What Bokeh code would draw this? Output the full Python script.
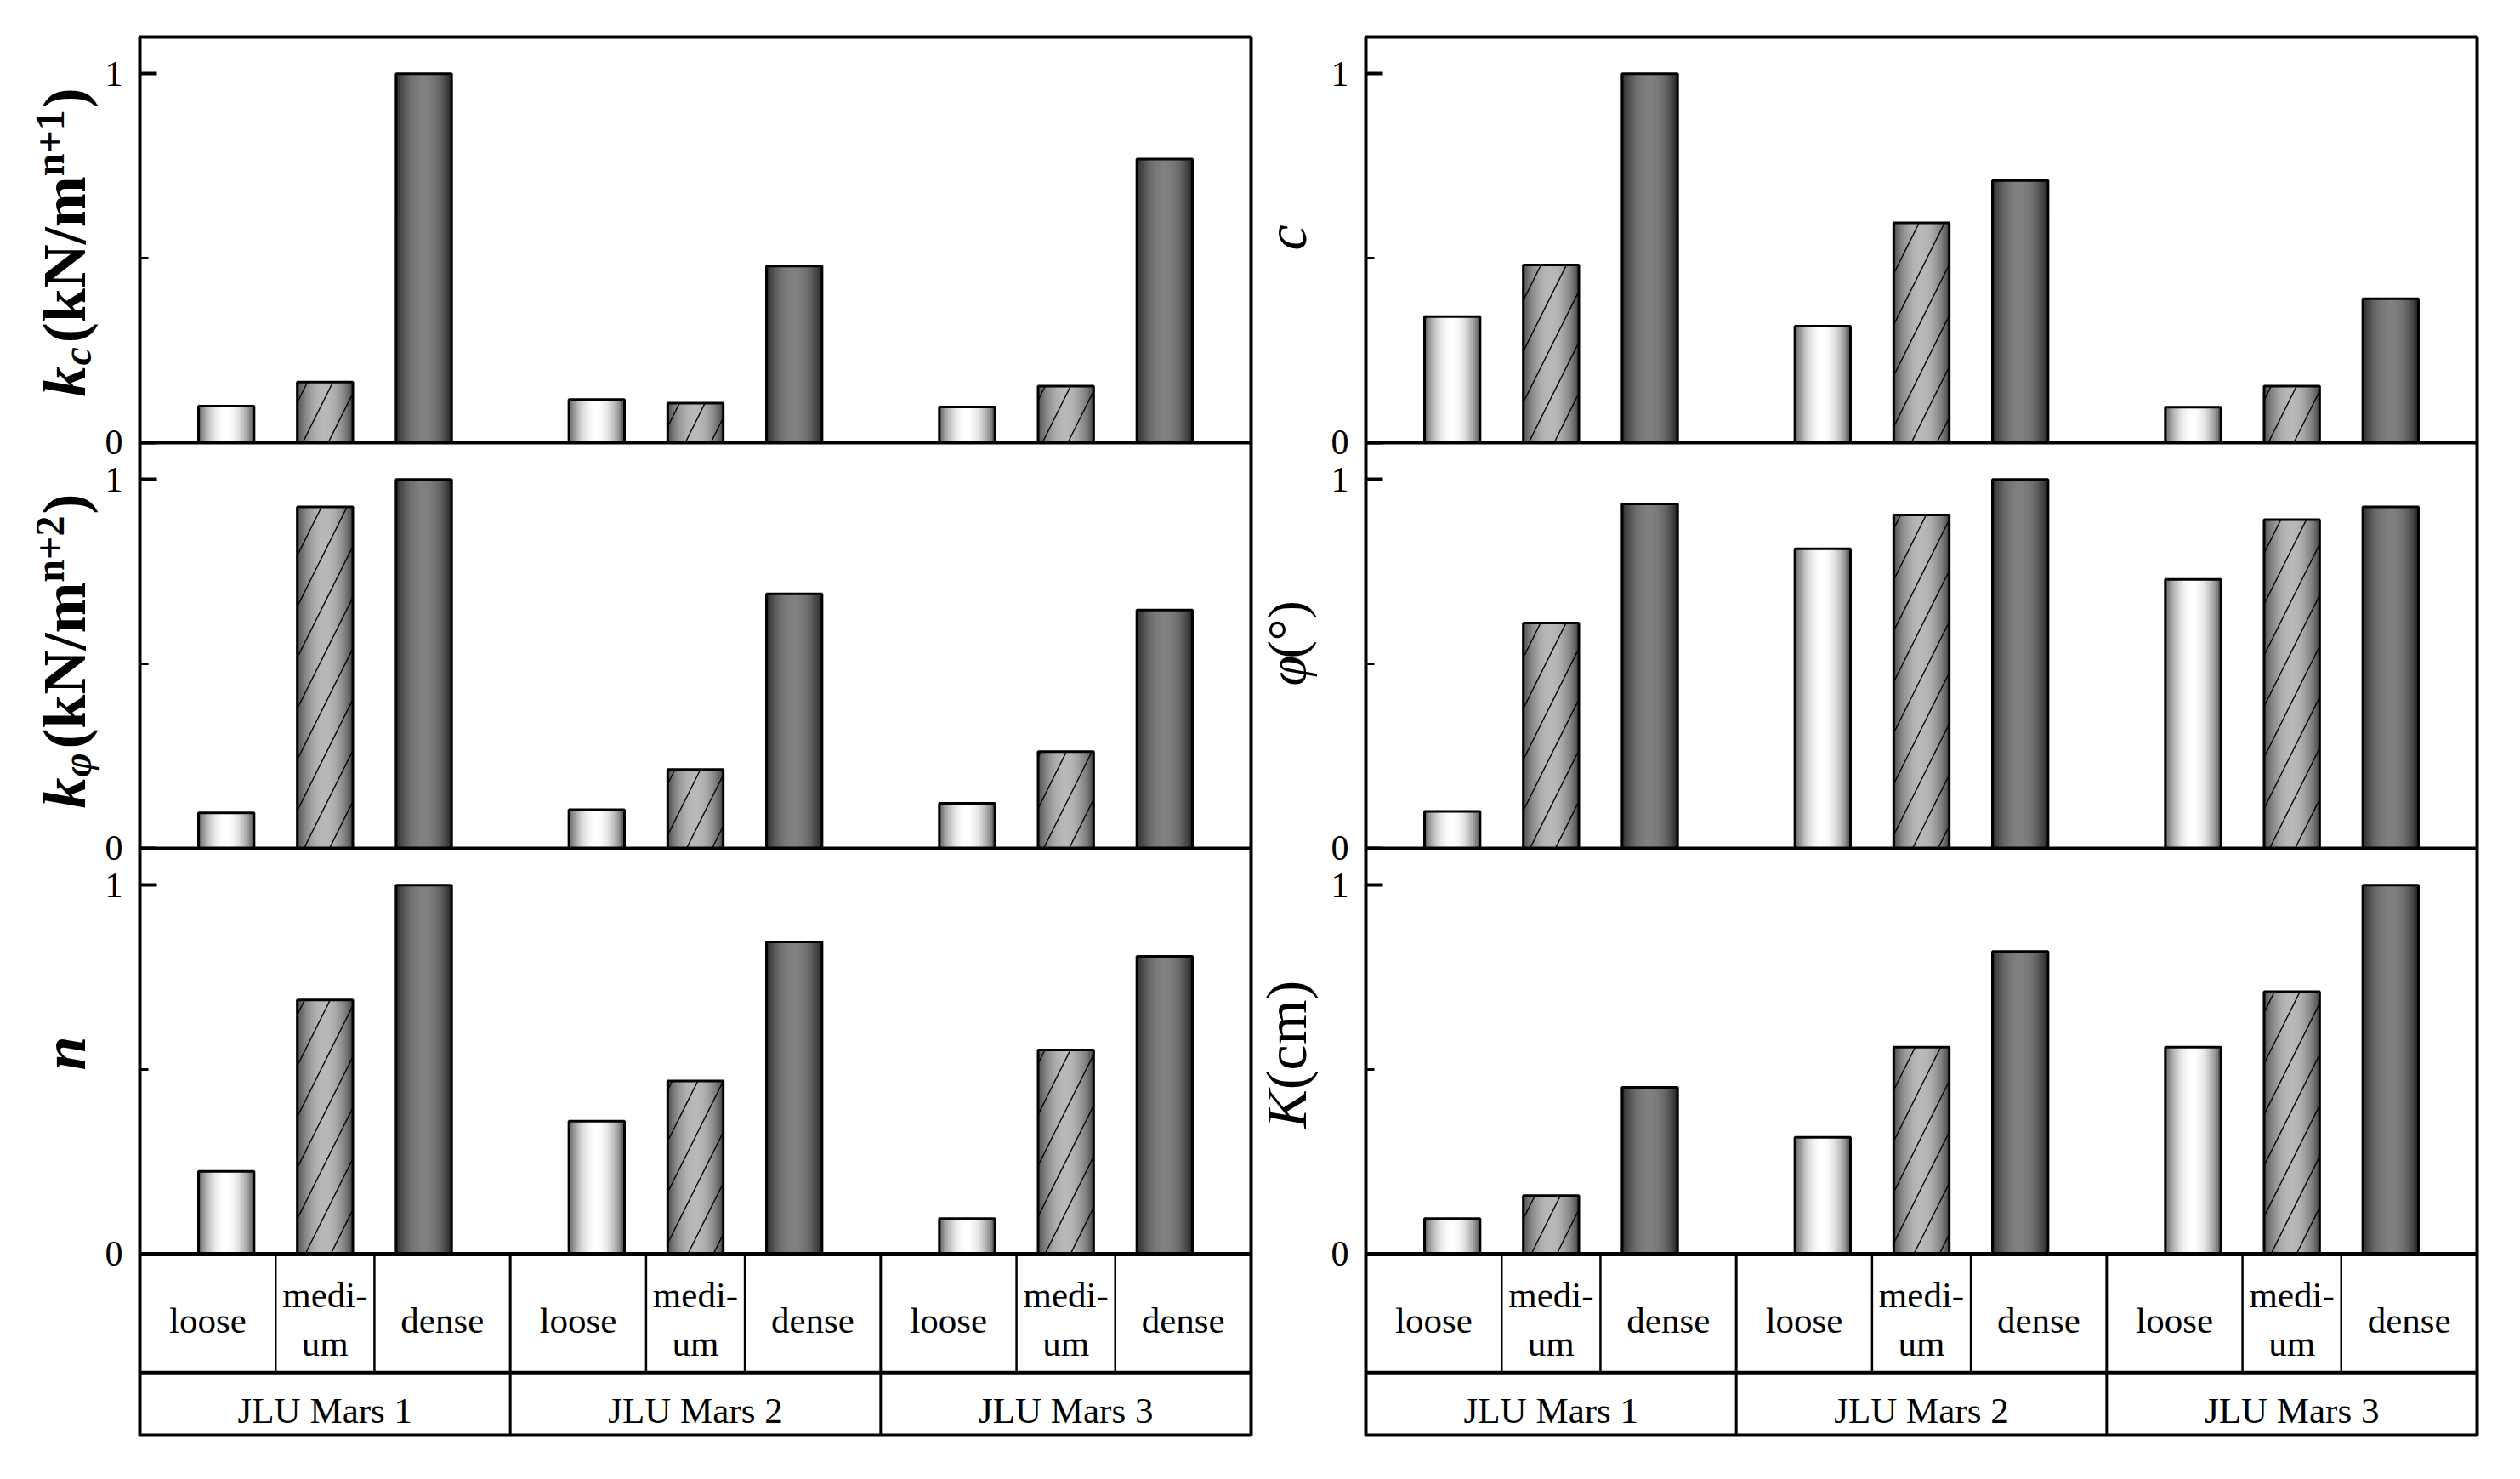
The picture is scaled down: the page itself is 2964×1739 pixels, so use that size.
import math
from bokeh.plotting import figure
from bokeh.models import FixedTicker, Span, ColumnDataSource, Range1d, Label
from bokeh.layouts import row
from bokeh.embed import file_html
from bokeh.resources import INLINE
from bokeh.core.properties import value

# ---------------- data ----------------
densities = ["loose", "medium", "dense"]
soils = ["JLU Mars 1", "JLU Mars 2", "JLU Mars 3"]
# values ordered: Mars1 (loose, medium, dense), Mars2 (...), Mars3 (...)
kc_vals = [0.099, 0.164, 1.000, 0.117, 0.107, 0.479, 0.097, 0.153, 0.769]
kphi_vals = [0.096, 0.926, 1.000, 0.105, 0.214, 0.690, 0.122, 0.262, 0.646]
n_vals = [0.224, 0.689, 1.000, 0.360, 0.469, 0.846, 0.096, 0.553, 0.807]
c_vals = [0.342, 0.482, 1.000, 0.316, 0.596, 0.711, 0.096, 0.153, 0.390]
phi_vals = [0.100, 0.611, 0.934, 0.812, 0.904, 1.000, 0.729, 0.891, 0.926]
K_vals = [0.096, 0.158, 0.452, 0.316, 0.561, 0.820, 0.561, 0.711, 1.000]
tick_values = [0, 1]
minor_tick_values = [0.5]

# ---------------- layout constants ----------------
FONT = "Liberation Serif"
FRAME_W = 1307
FRAME_H = 1644
BT, BB = 43, 6
FIG_H = BT + FRAME_H + BB
FRAME_TOP_PX = 8 + BT
SUB_H = 1.1
Y1 = 3 * SUB_H
PX_PER_Y = 433.6
Y0 = Y1 - FRAME_H / PX_PER_Y
PX_PER_X = FRAME_W / 9.0
BAR_W = 0.45
BAR_STEP = 0.8
NS = 24
edge_grey = [70, 60, 28]
center_grey = [255, 185, 128]
MID = 0.3375  # distance (em) from baseline to middle of the font box

# approximate advance widths (em) of Liberation Serif glyphs, for label layout
W_BOLD = {"(": 0.333, ")": 0.333, "k": 0.556, "N": 0.722, "/": 0.278, "m": 0.833,
          "n": 0.556, "+": 0.570, "1": 0.5, "2": 0.5}
W_BI = {"k": 0.5, "c": 0.444, "n": 0.556, "φ": 0.56}
W_I = {"K": 0.667, "c": 0.444, "φ": 0.5}
W_R = {"(": 0.333, ")": 0.333, "c": 0.444, "m": 0.778, "°": 0.4}
WIDTHS = {"bold": W_BOLD, "bold italic": W_BI, "italic": W_I, "normal": W_R}


def yd(py):
    return Y1 - (py - FRAME_TOP_PX) / PX_PER_Y


def bar_centers():
    return [3 * (j // 3) + 1.5 + (j % 3 - 1) * BAR_STEP for j in range(9)]


def make_label_fig(x0, x1, labels, base_px):
    """Narrow figure holding the rotated axis titles; data coords = page px.
    Its frame has the same vertical extent as the chart frames."""
    p = figure(width=x1 - x0, height=FIG_H, x_range=Range1d(x0, x1),
               y_range=Range1d(-(FRAME_TOP_PX + FRAME_H), -FRAME_TOP_PX),
               output_backend="svg", toolbar_location=None,
               x_axis_location=None, y_axis_location=None, title=None,
               min_border_left=0, min_border_right=0, min_border_top=BT,
               min_border_bottom=BB)
    p.grid.visible = False
    p.outline_line_color = None
    for start_py, pieces in labels:
        pos = start_py
        for text, style, sz, shift, gap in pieces:
            w = sum(WIDTHS[style][ch] for ch in text) * sz
            # baseline at base_px + shift; anchor at the middle of the font box
            p.add_layout(Label(x=base_px + shift - MID * sz, y=-pos, text=text,
                               angle=math.pi / 2, text_align="left",
                               text_baseline="middle", text_font=FONT,
                               text_font_style=style, text_font_size=f"{sz}px",
                               text_color="black"))
            pos -= w + gap
    return p


def make_column(params, border_left):
    p = figure(width=border_left + FRAME_W + 4, height=FIG_H,
               x_range=Range1d(0, 9), y_range=Range1d(Y0, Y1),
               output_backend="svg", toolbar_location=None,
               x_axis_location=None, title=None,
               min_border_left=border_left, min_border_right=4,
               min_border_top=BT, min_border_bottom=BB)
    p.grid.visible = False
    p.outline_line_color = "black"
    p.outline_line_width = 4
    p.background_fill_color = "white"
    p.border_fill_color = "white"

    centers = bar_centers()
    ticks, minors, overrides = [], [], {}
    for i, vals in enumerate(params):
        base = (2 - i) * SUB_H
        for t in tick_values:
            tv = round(base + t, 6)
            ticks.append(tv)
            overrides[tv] = str(t)
        for m in minor_tick_values:
            minors.append(round(base + m, 6))
        # gradient strips
        L, R, T, B, C = [], [], [], [], []
        for j, v in enumerate(vals):
            d = j % 3
            left = centers[j] - BAR_W / 2
            for s in range(NS):
                tmid = (s + 0.5) / NS
                f = math.sin(math.pi * tmid) ** 0.7
                g = int(round(edge_grey[d] + (center_grey[d] - edge_grey[d]) * f))
                L.append(left + s * BAR_W / NS)
                R.append(left + (s + 1) * BAR_W / NS)
                T.append(base + v)
                B.append(base)
                C.append("#%02x%02x%02x" % (g, g, g))
        src = ColumnDataSource(dict(left=L, right=R, top=T, bottom=B, color=C))
        p.quad(left="left", right="right", top="top", bottom="bottom",
               fill_color="color", line_color="color", line_width=1, source=src)
        # hatch for medium bars
        med = [j for j in range(9) if j % 3 == 1]
        hsrc = ColumnDataSource(dict(
            left=[centers[j] - BAR_W / 2 for j in med],
            right=[centers[j] + BAR_W / 2 for j in med],
            top=[base + vals[j] for j in med], bottom=[base] * len(med)))
        p.quad(left="left", right="right", top="top", bottom="bottom",
               fill_color=None, line_color=None, hatch_pattern="/",
               hatch_color="black", hatch_weight=1.4, hatch_scale=60, source=hsrc)
        # outlines
        osrc = ColumnDataSource(dict(
            left=[c - BAR_W / 2 for c in centers],
            right=[c + BAR_W / 2 for c in centers],
            top=[base + v for v in vals], bottom=[base] * 9))
        p.quad(left="left", right="right", top="top", bottom="bottom",
               fill_color=None, line_color="black", line_width=3, source=osrc)

    # y axis
    ax = p.yaxis[0]
    ax.ticker = FixedTicker(ticks=ticks, minor_ticks=minors)
    ax.major_label_overrides = overrides
    ax.axis_line_color = None
    ax.major_tick_in = 20
    ax.major_tick_out = 0
    ax.minor_tick_in = 10
    ax.minor_tick_out = 0
    ax.major_tick_line_width = 4
    ax.minor_tick_line_width = 3
    ax.major_label_standoff = 20
    ax.major_label_text_font = FONT
    ax.major_label_text_font_size = "42px"
    ax.major_label_text_color = "black"

    # subplot separators
    for k in (1, 2):
        p.add_layout(Span(location=k * SUB_H, dimension="width",
                          line_color="black", line_width=4))
    p.add_layout(Span(location=0, dimension="width", line_color="black", line_width=5))
    split = yd(1621.7)
    p.add_layout(Span(location=split, dimension="width", line_color="black", line_width=5))

    # table lines
    inner_x = []
    for g in range(3):
        a, b, c = centers[3 * g:3 * g + 3]
        inner_x += [(a + b) / 2, (b + c) / 2]
    p.segment(x0=inner_x, x1=inner_x, y0=[split] * len(inner_x), y1=[0] * len(inner_x),
              line_color="black", line_width=2.5)
    gx = [3.0, 6.0]
    p.segment(x0=gx, x1=gx, y0=[Y0] * 2, y1=[0] * 2, line_color="black", line_width=3)

    # table texts
    tx, ty, tt = [], [], []
    for g in range(3):
        lo = 3 * g
        cells = [(lo, inner_x[2 * g]), (inner_x[2 * g], inner_x[2 * g + 1]),
                 (inner_x[2 * g + 1], lo + 3)]
        for d, (a, b) in enumerate(cells):
            cx = (a + b) / 2
            if densities[d] == "medium":
                tx += [cx, cx]
                ty += [yd(1530), yd(1587)]
                tt += ["medi-", "um"]
            else:
                tx.append(cx)
                ty.append(yd(1560))
                tt.append(densities[d])
        tx.append(lo + 1.5)
        ty.append(yd(1666))
        tt.append(soils[g])
    p.text(x=tx, y=ty, text=tt, text_font=value(FONT), text_font_size=value("43px"),
           text_align="center", text_baseline="alphabetic", text_color="black")
    return p


# (start y in page px, [(text, style, size, baseline shift px, gap after px)])
left_labels = [
    (474, [("k", "bold italic", 72, 0, 1), ("c", "bold italic", 48, 6, 5),
           ("(kN/m", "bold", 72, 0, 0), ("n+1", "bold", 48, -26, 2),
           (")", "bold", 72, 0, 0)]),
    (958, [("k", "bold italic", 72, 0, 1), ("φ", "bold italic", 48, 6, 6),
           ("(kN/m", "bold", 72, 0, 0), ("n+2", "bold", 48, -26, 2),
           (")", "bold", 72, 0, 0)]),
    (1266, [("n", "bold italic", 72, 0, 0)]),
]
right_labels = [
    (302, [("c", "italic", 68, 0, 0)]),
    (814, [("φ", "italic", 64, 0, 0), ("(°)", "normal", 64, 0, 0)]),
    (1334, [("K", "italic", 68, 0, 0), ("(cm)", "normal", 68, 0, 0)]),
]

# left block: label strip, then main figure whose frame starts at x=172
LBL_END = 128
lab_left = make_label_fig(8, LBL_END, left_labels, 108)
p_left = make_column([kc_vals, kphi_vals, n_vals], 172 - LBL_END)
right_start = 172 + FRAME_W + 4
RLBL_END = 1570
lab_right = make_label_fig(right_start, RLBL_END, right_labels, 1543)
p_right = make_column([c_vals, phi_vals, K_vals], 1614 - RLBL_END)

layout = row(lab_left, p_left, lab_right, p_right, spacing=0)
open("out.html", "w").write(file_html(layout, INLINE))
